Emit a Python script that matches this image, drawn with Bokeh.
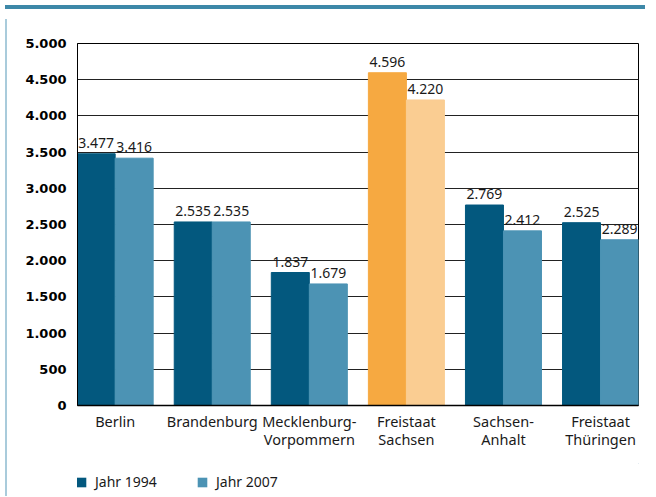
import numpy as np
from bokeh.plotting import figure
from bokeh.models import (ColumnDataSource, Legend, LegendItem, FixedTicker,
                          Div, Range1d)
from bokeh.layouts import column, row
from bokeh.core.properties import value
from bokeh.embed import file_html
from bokeh.resources import INLINE

# ---------------- data ----------------
categories = ["Berlin", "Brandenburg", "Mecklenburg-\nVorpommern",
              "Freistaat\nSachsen", "Sachsen-\nAnhalt", "Freistaat\nThüringen"]
jahr_1994 = [3477, 2535, 1837, 4596, 2769, 2525]
jahr_2007 = [3416, 2535, 1679, 4220, 2412, 2289]
series_names = ["Jahr 1994", "Jahr 2007"]
y_ticks = [0, 500, 1000, 1500, 2000, 2500, 3000, 3500, 4000, 4500, 5000]
highlight = "Freistaat\nSachsen"

# ---------------- style ----------------
DARK = "#03587e"
LIGHT = "#4c93b4"
ORANGE = "#f6a941"
LORANGE = "#facd92"
BAND = "#3d88a8"
EDGE = "#a9cbdb"
TXT = "#1a1a1a"
FONT = "Noto Sans"

def de(n):
    return f"{n:,}".replace(",", ".")

idx = np.arange(len(categories))
bw = 0.3915

c1 = [ORANGE if c == highlight else DARK for c in categories]
c2 = [LORANGE if c == highlight else LIGHT for c in categories]

src1 = ColumnDataSource(dict(x=idx - bw / 2, top=jahr_1994, color=c1,
                             lab=[de(v) for v in jahr_1994]))
src2 = ColumnDataSource(dict(x=idx + bw / 2, top=jahr_2007, color=c2,
                             lab=[de(v) for v in jahr_2007]))

p = figure(width=638, height=449, output_backend="svg", toolbar_location=None,
           x_range=Range1d(-0.388, 5.391), y_range=Range1d(0, 5000),
           min_border_left=65, min_border_right=12, min_border_top=29,
           min_border_bottom=58)
p.background_fill_color = "white"
p.border_fill_color = "white"
p.outline_line_color = "black"
p.outline_line_width = 1

r1 = p.vbar(x="x", top="top", width=bw, bottom=0, color="color", source=src1)
r2 = p.vbar(x="x", top="top", width=bw, bottom=0, color="color", source=src2)

for s in (src1, src2):
    p.text(x="x", y="top", text="lab", source=s, text_align="center",
           text_baseline="middle", y_offset=-11,
           text_font=value(FONT), text_font_size="14px", text_color=TXT)

# grid
p.xgrid.grid_line_color = None
p.ygrid.ticker = FixedTicker(ticks=y_ticks)
p.ygrid.grid_line_color = "#222222"
p.ygrid.grid_line_width = 1.2
p.ygrid.level = "underlay"

# y axis
p.yaxis.ticker = FixedTicker(ticks=y_ticks)
p.yaxis.major_label_overrides = {t: de(t) for t in y_ticks}
p.yaxis.major_label_text_font = "DejaVu Sans"
p.yaxis.major_label_text_font_style = "bold"
p.yaxis.major_label_text_font_size = "13px"
p.yaxis.major_label_text_color = "black"
p.yaxis.major_tick_out = 0
p.yaxis.major_tick_in = 0
p.yaxis.minor_tick_line_color = None
p.yaxis.major_label_standoff = 11
p.yaxis.axis_line_color = "black"
p.yaxis.axis_line_width = 1

# x axis
p.xaxis.ticker = FixedTicker(ticks=list(idx))
p.xaxis.major_label_overrides = {int(i): c for i, c in zip(idx, categories)}
p.xaxis.major_label_text_font = FONT
p.xaxis.major_label_text_font_size = "14.5px"
p.xaxis.major_label_text_line_height = 0.93
p.xaxis.major_label_text_color = TXT
p.xaxis.major_tick_out = 0
p.xaxis.major_tick_in = 0
p.xaxis.minor_tick_line_color = None
p.xaxis.major_label_standoff = 5
p.xaxis.axis_line_color = "black"
p.xaxis.axis_line_width = 1.5

# legend in its own strip below the chart (swatch renderers kept out of view)
lf = figure(width=638, height=28, output_backend="svg", toolbar_location=None,
            x_range=Range1d(-100, -99), y_range=Range1d(-20, -10),
            min_border=0, x_axis_location=None, y_axis_location=None)
lf.outline_line_color = None
lf.grid.visible = False
lf.background_fill_alpha = 0
lf.border_fill_alpha = 0
d1 = lf.vbar(x=[idx[0]], top=[jahr_1994[0]], width=bw,
             fill_color=DARK, line_color=None)
d2 = lf.vbar(x=[idx[0]], top=[jahr_2007[0]], width=bw,
             fill_color=LIGHT, line_color=None)
legend = Legend(items=[LegendItem(label=series_names[0], renderers=[d1]),
                       LegendItem(label=series_names[1], renderers=[d2])],
                location=(-2, 0), orientation="horizontal",
                padding=0, margin=0, spacing=6,
                glyph_width=12, glyph_height=12, label_height=12,
                label_width=95, label_standoff=8,
                label_text_font=FONT, label_text_font_size="14px",
                label_text_line_height=0.8,
                label_text_color=TXT, border_line_color=None,
                background_fill_alpha=0)
lf.add_layout(legend, "center")

band = Div(text="", width=640, height=4, styles={"background-color": BAND})
edge = Div(text="", width=2, height=477, styles={"background-color": EDGE})
layout = column(band, row(edge, column(p, lf, spacing=0), spacing=0), spacing=0)

open("out.html", "w").write(file_html(layout, INLINE))
